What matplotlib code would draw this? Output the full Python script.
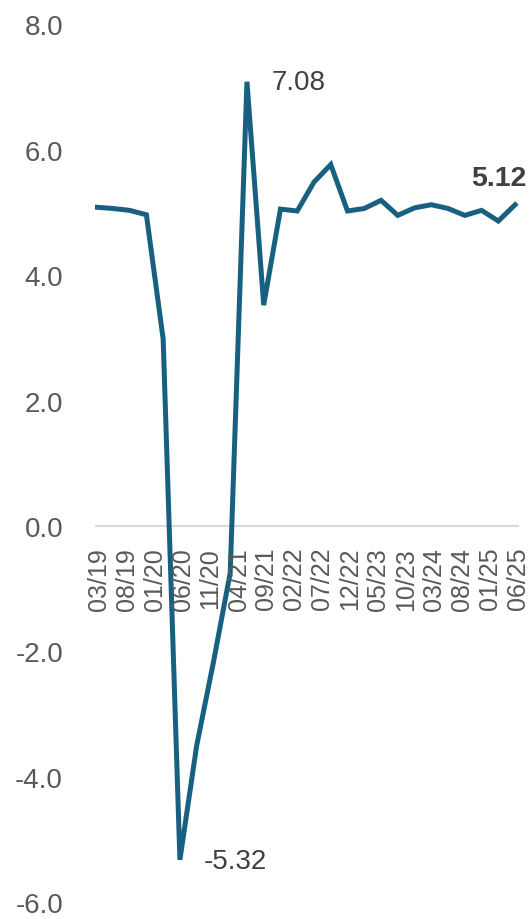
import matplotlib
matplotlib.use("Agg")
import matplotlib.pyplot as plt

plt.rcParams['font.family'] = ['Liberation Sans', 'DejaVu Sans']

# quarterly values, 03/19 .. 06/25
quarters = ['03/19', '06/19', '09/19', '12/19', '03/20', '06/20', '09/20', '12/20',
            '03/21', '06/21', '09/21', '12/21', '03/22', '06/22', '09/22', '12/22',
            '03/23', '06/23', '09/23', '12/23', '03/24', '06/24', '09/24', '12/24',
            '03/25', '06/25']
values = [5.08, 5.06, 5.03, 4.96, 2.98, -5.32, -3.50, -2.17,
          -0.75, 7.08, 3.52, 5.05, 5.02, 5.48, 5.76, 5.02,
          5.06, 5.19, 4.95, 5.07, 5.12, 5.06, 4.95, 5.03,
          4.86, 5.12]
tick_labels = ['03/19', '08/19', '01/20', '06/20', '11/20', '04/21', '09/21', '02/22',
               '07/22', '12/22', '05/23', '10/23', '03/24', '08/24', '01/25', '06/25']


def months_since_start(label):
    m, y = label.split('/')
    return (int(y) - 19) * 12 + int(m) - 3


x = [months_since_start(q) for q in quarters]
xt = [months_since_start(t) for t in tick_labels]

fig = plt.figure(figsize=(5.3, 9.2), dpi=100, facecolor='white')
ax = fig.add_axes([95 / 530, 1 - 903.5 / 920, 424 / 530, (903.5 - 25) / 920])

ax.axhline(0, color='#d9d9d9', lw=1.5, zorder=1)
ax.plot(x, values, color='#18607F', lw=3.6, solid_joinstyle='miter', zorder=3)

ax.set_xlim(-0.2, 75.7)
ax.set_ylim(-6, 8)
ax.set_yticks(range(-6, 9, 2))
ax.set_yticklabels([f'{v:.1f}' for v in range(-6, 9, 2)])
ax.tick_params(axis='y', length=0, pad=23, labelsize=20, labelcolor='#595959')
for s in ax.spines.values():
    s.set_visible(False)
ax.set_xticks([])

# x tick labels hang below the zero line
for pos, lab in zip(xt, tick_labels):
    ax.annotate(lab, (pos, 0), xytext=(2, -15), textcoords='offset points',
                rotation=90, ha='center', va='top', fontsize=18, color='#595959')

i_max = values.index(max(values))
i_min = values.index(min(values))
ax.annotate(f'{values[i_max]:.2f}', (x[i_max], values[i_max]), xytext=(18, 0),
            textcoords='offset points', ha='left', va='center', fontsize=20, color='#404040')
ax.annotate(f'{values[i_min]:.2f}', (x[i_min], values[i_min]), xytext=(17, -1),
            textcoords='offset points', ha='left', va='center', fontsize=20, color='#404040')
ax.annotate(f'{values[-1]:.2f}', (x[-1], values[-1]), xytext=(8, 19),
            textcoords='offset points', ha='right', va='center', fontsize=20.5,
            fontweight='bold', color='#404040')

fig.savefig('out.png', dpi=100)
